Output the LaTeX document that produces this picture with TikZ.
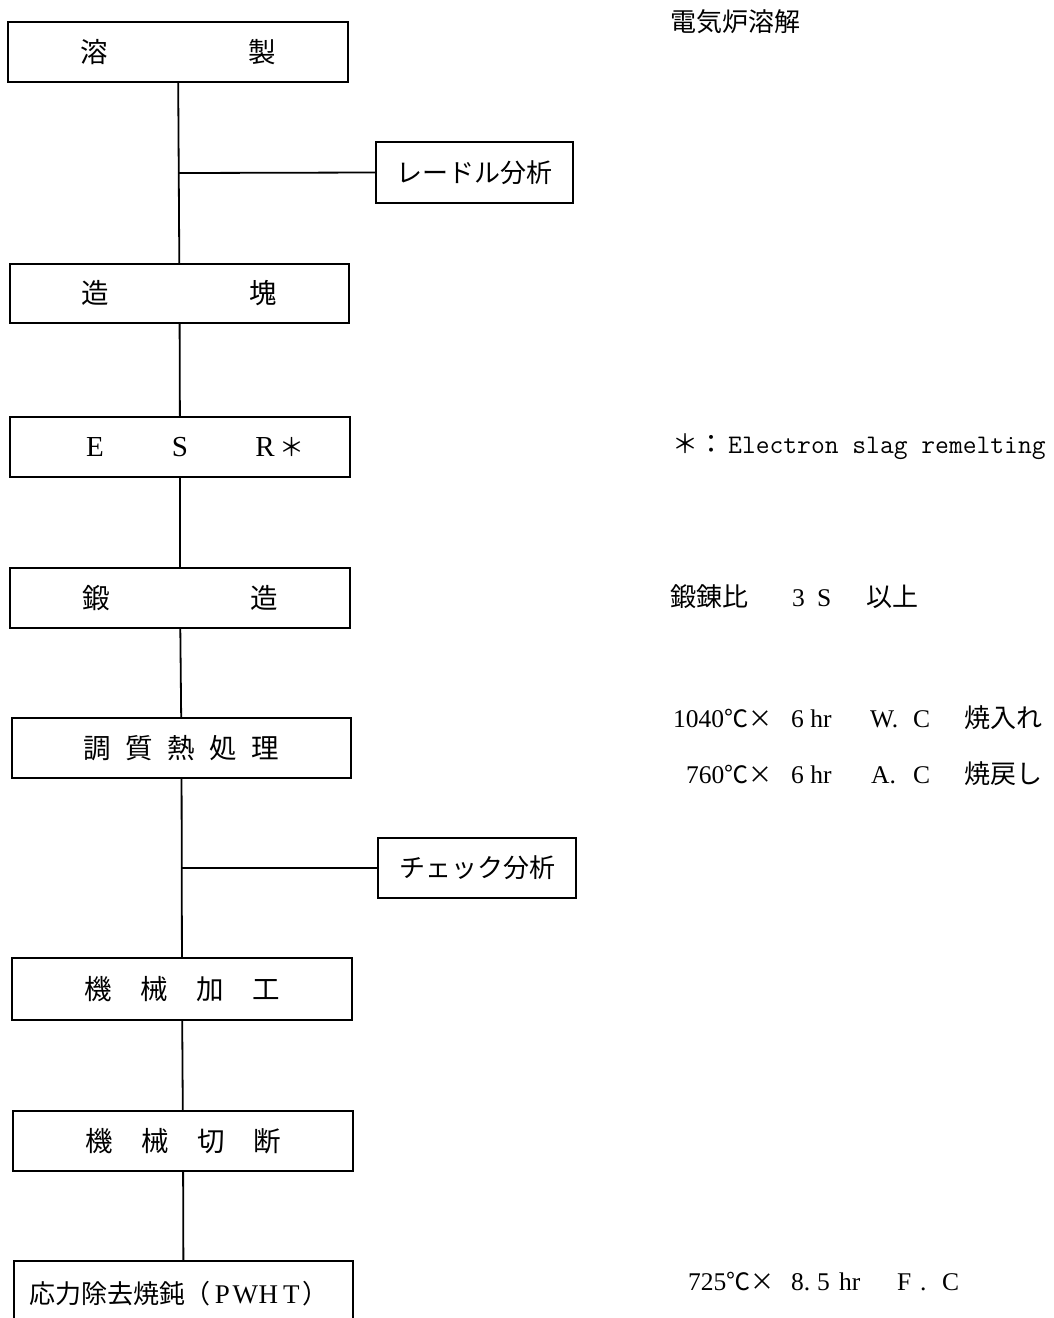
\documentclass[tikz,border=0pt]{standalone}
\usepackage{fontspec}
\setmainfont{Liberation Serif}
\newfontfamily\jpf{Noto Sans CJK JP}
\usetikzlibrary{calc}
\newcommand\jpbox{\jpf\fontsize{26}{30}\selectfont}
\newcommand\jpbig{\jpf\fontsize{27.5}{30}\selectfont}
\newcommand\latn{\rmfamily\fontsize{25.5}{28}\selectfont}
\tikzset{
  proc/.style={draw, line width=1.8pt, inner sep=0pt, minimum height=60pt, font=\jpbig},
  side/.style={draw, line width=1.8pt, inner sep=0pt, font=\jpbox},
  link/.style={line width=1.8pt},
  note/.style={inner sep=0pt, anchor=base west, font=\latn},
  jnote/.style={inner sep=0pt, anchor=base west, font=\jpbox},
}
\begin{document}
\begin{tikzpicture}[x=1pt,y=-1pt]
\fill[white] (0,0) rectangle (1054,1318);
\useasboundingbox (0,0) rectangle (1054,1318);

% main process boxes
\node[proc, minimum width=340pt] (b1) at (178,52) {\makebox[168pt]{溶}\makebox[168pt]{製}};
\node[proc, minimum width=339pt, minimum height=59pt] (b2) at (179.5,293.5) {\makebox[168pt]{造}\makebox[168pt]{塊}};
\node[proc, minimum width=340pt] (b3) at (180,447) {{\rmfamily\fontsize{29}{30}\selectfont\makebox[85pt]{E}\makebox[85pt]{S}\makebox[85pt]{R\rlap{\hspace{5pt}\jpf\fontsize{25}{28}\selectfont ＊}}}};
\node[proc, minimum width=340pt] (b4) at (180,598) {\makebox[168pt]{鍛}\makebox[168pt]{造}};
\node[proc, minimum width=339pt] (b5) at (181.5,748) {\makebox[42pt]{調}\makebox[42pt]{質}\makebox[42pt]{熱}\makebox[42pt]{処}\makebox[42pt]{理}};
\node[proc, minimum width=340pt, minimum height=62pt] (b6) at (182,989) {\makebox[56pt]{機}\makebox[56pt]{械}\makebox[56pt]{加}\makebox[56pt]{工}};
\node[proc, minimum width=340pt] (b7) at (183,1141) {\makebox[56pt]{機}\makebox[56pt]{械}\makebox[56pt]{切}\makebox[56pt]{断}};
\node[proc, minimum width=339pt, minimum height=66pt, font=\jpbox] (b8) at (183.5,1294) {\makebox[309pt][l]{応力除去焼鈍（{\rmfamily\fontsize{27}{30}\selectfont\makebox[23pt]{P}\makebox[23pt]{W}\makebox[23pt]{H}\makebox[23pt]{T}}）}};

% side boxes
\node[side, minimum width=197pt, minimum height=61pt] (lad) at (474.5,172.5) {レードル分析};
\node[side, minimum width=198pt, minimum height=60pt] (chk) at (477,868) {チェック分析};

% connectors
\draw[link] (b1) -- (b2);
\draw[link] (b2) -- (b3);
\draw[link] (b3) -- (b4);
\draw[link] (b4) -- (b5);
\draw[link] (b5) -- (b6);
\draw[link] (b6) -- (b7);
\draw[link] (b7) -- (b8);
\coordinate (j1) at ($(b1.south)!0.5!(b2.north)$);
\coordinate (j2) at ($(b5.south)!0.5!(b6.north)$);
\draw[link] (j1) -- (lad.west);
\draw[link] (j2) -- (chk.west);

% notes on the right
\node[jnote] (n1) at (670,31) {電気炉溶解};
\node[jnote] (n2) at (672,453) {＊：};
\node[note] (n3) at (728,453) {\ttfamily\fontsize{26.8}{30}\selectfont Electron slag remelting};
\node[jnote] (n4) at (670,606) {鍛錬比};
\node[note] (n5) at (792,606) {\makebox[25pt][l]{3}S};
\node[jnote] (n6) at (866,606) {以上};
\node[note] (n7) at (673,727) {1040{\jpf\fontsize{24}{28}\selectfont ℃×}};
\node[note] (n8) at (791,727) {6 hr};
\node[note] (n9) at (870,727) {\makebox[43pt][l]{W.}C};
\node[jnote] (n10) at (964,727) {焼入れ};
\node[note] (n11) at (686,783) {760{\jpf\fontsize{24}{28}\selectfont ℃×}};
\node[note] (n12) at (791,783) {6 hr};
\node[note] (n13) at (871,783) {\makebox[42pt][l]{A.}C};
\node[jnote] (n14) at (964,783) {焼戻し};
\node[note] (n15) at (688,1290) {725{\jpf\fontsize{24}{28}\selectfont ℃×}};
\node[note] (n16) at (791,1290) {\makebox[26pt][l]{8.}\makebox[22pt][l]{5}hr};
\node[note] (n17) at (897,1290) {\makebox[23pt][l]{F}\makebox[22pt][l]{.}C};
\end{tikzpicture}
\end{document}
